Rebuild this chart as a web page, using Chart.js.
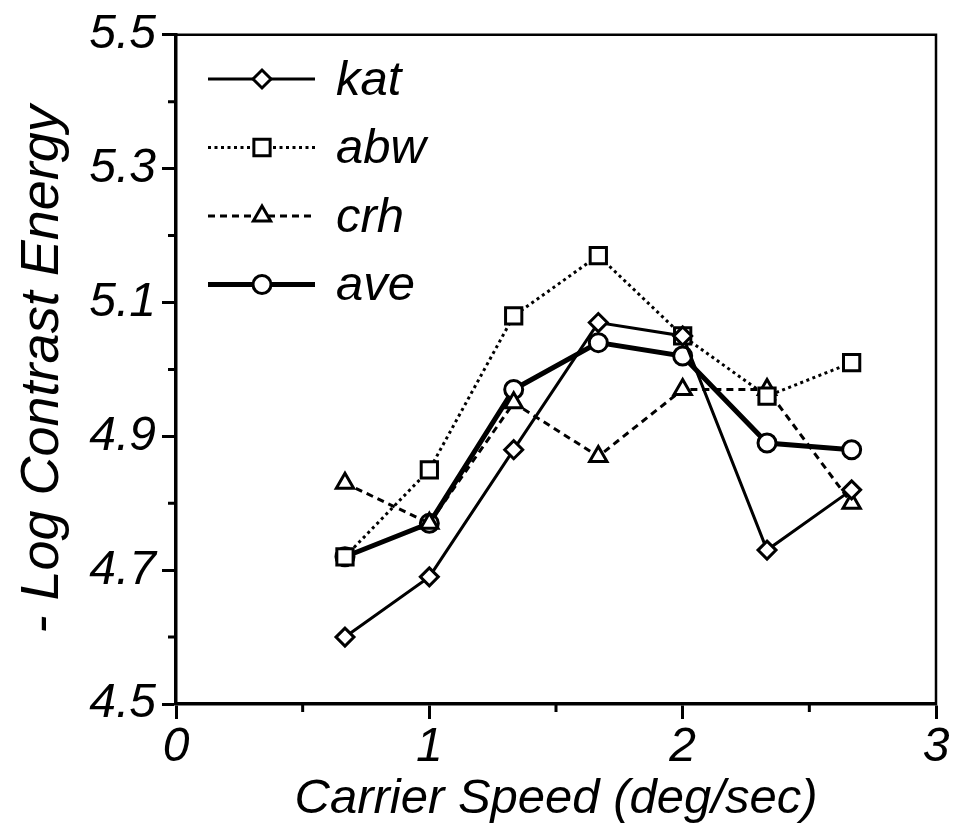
<!DOCTYPE html>
<html>
<head>
<meta charset="utf-8">
<script src="https://cdn.jsdelivr.net/npm/chart.js@4/dist/chart.umd.min.js"></script>
<style>
  html, body { margin: 0; padding: 0; background: #fff; }
  #wrap { width: 953px; height: 829px; }
</style>
</head>
<body>
<div id="wrap"><canvas id="chart"></canvas></div>
<script>
// --- data ---
const speeds = [0.667, 1, 1.333, 1.667, 2, 2.333, 2.667];
const kat = [4.60, 4.69, 4.88, 5.07, 5.05, 4.73, 4.82];
const abw = [4.72, 4.85, 5.08, 5.17, 5.05, 4.96, 5.01];
const crh = [4.83, 4.77, 4.95, 4.87, 4.97, 4.97, 4.80];
const ave = [4.72, 4.77, 4.97, 5.04, 5.02, 4.89, 4.88];
const seriesNames = ['kat', 'abw', 'crh', 'ave'];

const xMinorTicks = [0.5, 1.5, 2.5];
const yMinorTicks = [4.6, 4.8, 5.0, 5.2, 5.4];

const FONT = '"Liberation Sans", Arial, Helvetica, sans-serif';

function points(values) {
    return speeds.map((s, i) => ({ x: s, y: values[i] }));
}

function series(label, values, style) {
    return Object.assign({
        label: label,
        data: points(values),
        borderColor: '#000',
        backgroundColor: '#fff',
        pointBackgroundColor: '#fff',
        pointBorderColor: '#000',
        pointBorderWidth: 3,
        fill: false,
        tension: 0
    }, style);
}

// --- frame and minor ticks ---
const framePlugin = {
    id: 'frame',
    afterDraw(chart) {
        const { ctx, chartArea: a, scales } = chart;
        ctx.save();
        ctx.strokeStyle = '#000';
        ctx.lineWidth = 2.5;
        ctx.beginPath();
        ctx.moveTo(a.left, a.top);
        ctx.lineTo(a.right, a.top);
        ctx.lineTo(a.right, a.bottom + 1);
        ctx.stroke();

        ctx.lineWidth = 3;
        ctx.beginPath();
        yMinorTicks.forEach(v => {
            const py = scales.y.getPixelForValue(v);
            ctx.moveTo(a.left, py);
            ctx.lineTo(a.left - 8, py);
        });
        xMinorTicks.forEach(v => {
            const px = scales.x.getPixelForValue(v);
            ctx.moveTo(px, a.bottom);
            ctx.lineTo(px, a.bottom + 8);
        });
        ctx.stroke();
        ctx.restore();
    }
};

// --- legend: line sample + marker + name ---
const legendPlugin = {
    id: 'lineLegend',
    afterDraw(chart) {
        const ctx = chart.ctx;
        const x0 = 208, x1 = 315, xm = 262, xt = 336;
        const y0 = 79, dy = 68.5;
        ctx.save();
        chart.data.datasets.forEach((ds, i) => {
            const y = y0 + i * dy;
            ctx.strokeStyle = '#000';
            ctx.lineWidth = ds.borderWidth;
            ctx.setLineDash(ds.borderDash || []);
            ctx.beginPath();
            ctx.moveTo(x0, y);
            ctx.lineTo(x1, y);
            ctx.stroke();
            ctx.setLineDash([]);
            ctx.fillStyle = '#fff';
            ctx.lineWidth = ds.pointBorderWidth;
            Chart.helpers.drawPoint(ctx, {
                pointStyle: ds.pointStyle,
                radius: ds.pointRadius,
                borderWidth: ds.pointBorderWidth,
                rotation: 0
            }, xm, y);
            ctx.fillStyle = '#000';
            ctx.font = 'italic 49px ' + FONT;
            ctx.textBaseline = 'middle';
            ctx.textAlign = 'left';
            ctx.fillText(ds.label, xt, y + 2);
        });
        ctx.restore();
    }
};

new Chart(document.getElementById('chart'), {
    type: 'line',
    data: {
        datasets: [
            series(seriesNames[0], kat, { borderWidth: 3, pointStyle: 'rectRot', pointRadius: 9 }),
            series(seriesNames[1], abw, { borderWidth: 3, borderDash: [3, 3.5], pointStyle: 'rect', pointRadius: 11.5 }),
            series(seriesNames[2], crh, { borderWidth: 3, borderDash: [7, 5], pointStyle: 'triangle', pointRadius: 10 }),
            series(seriesNames[3], ave, { borderWidth: 5, pointStyle: 'circle', pointRadius: 9 })
        ]
    },
    options: {
        responsive: true,
        maintainAspectRatio: false,
        animation: false,
        layout: { padding: { top: 32, right: 17, left: 0, bottom: 0 } },
        plugins: {
            legend: { display: false },
            tooltip: { enabled: false }
        },
        elements: { point: { hoverRadius: 9 } },
        scales: {
            x: {
                type: 'linear',
                min: 0,
                max: 3,
                afterFit: scale => { scale.height = 125; },
                ticks: {
                    stepSize: 1,
                    padding: 0,
                    color: '#000',
                    font: { family: FONT, size: 48, style: 'italic' },
                    callback: v => String(v)
                },
                grid: { drawOnChartArea: false, drawTicks: true, tickLength: 15, tickWidth: 3, tickColor: '#000' },
                border: { display: true, width: 3.5, color: '#000' },
                title: {
                    display: true,
                    text: 'Carrier Speed (deg/sec)',
                    color: '#000',
                    font: { family: FONT, size: 49, style: 'italic' },
                    padding: { top: 0, bottom: 0 }
                }
            },
            y: {
                type: 'linear',
                min: 4.5,
                max: 5.5,
                afterFit: scale => { scale.width = 176; },
                ticks: {
                    stepSize: 0.2,
                    padding: 6,
                    color: '#000',
                    font: { family: FONT, size: 48, style: 'italic' },
                    callback: v => Number(v).toFixed(1)
                },
                grid: { drawOnChartArea: false, drawTicks: true, tickLength: 14, tickWidth: 3, tickColor: '#000' },
                border: { display: true, width: 3.5, color: '#000' },
                title: {
                    display: true,
                    text: '- Log Contrast Energy',
                    color: '#000',
                    font: { family: FONT, size: 54, style: 'italic' },
                    padding: { top: 11, bottom: 0 }
                }
            }
        }
    },
    plugins: [framePlugin, legendPlugin]
});
</script>
</body>
</html>
